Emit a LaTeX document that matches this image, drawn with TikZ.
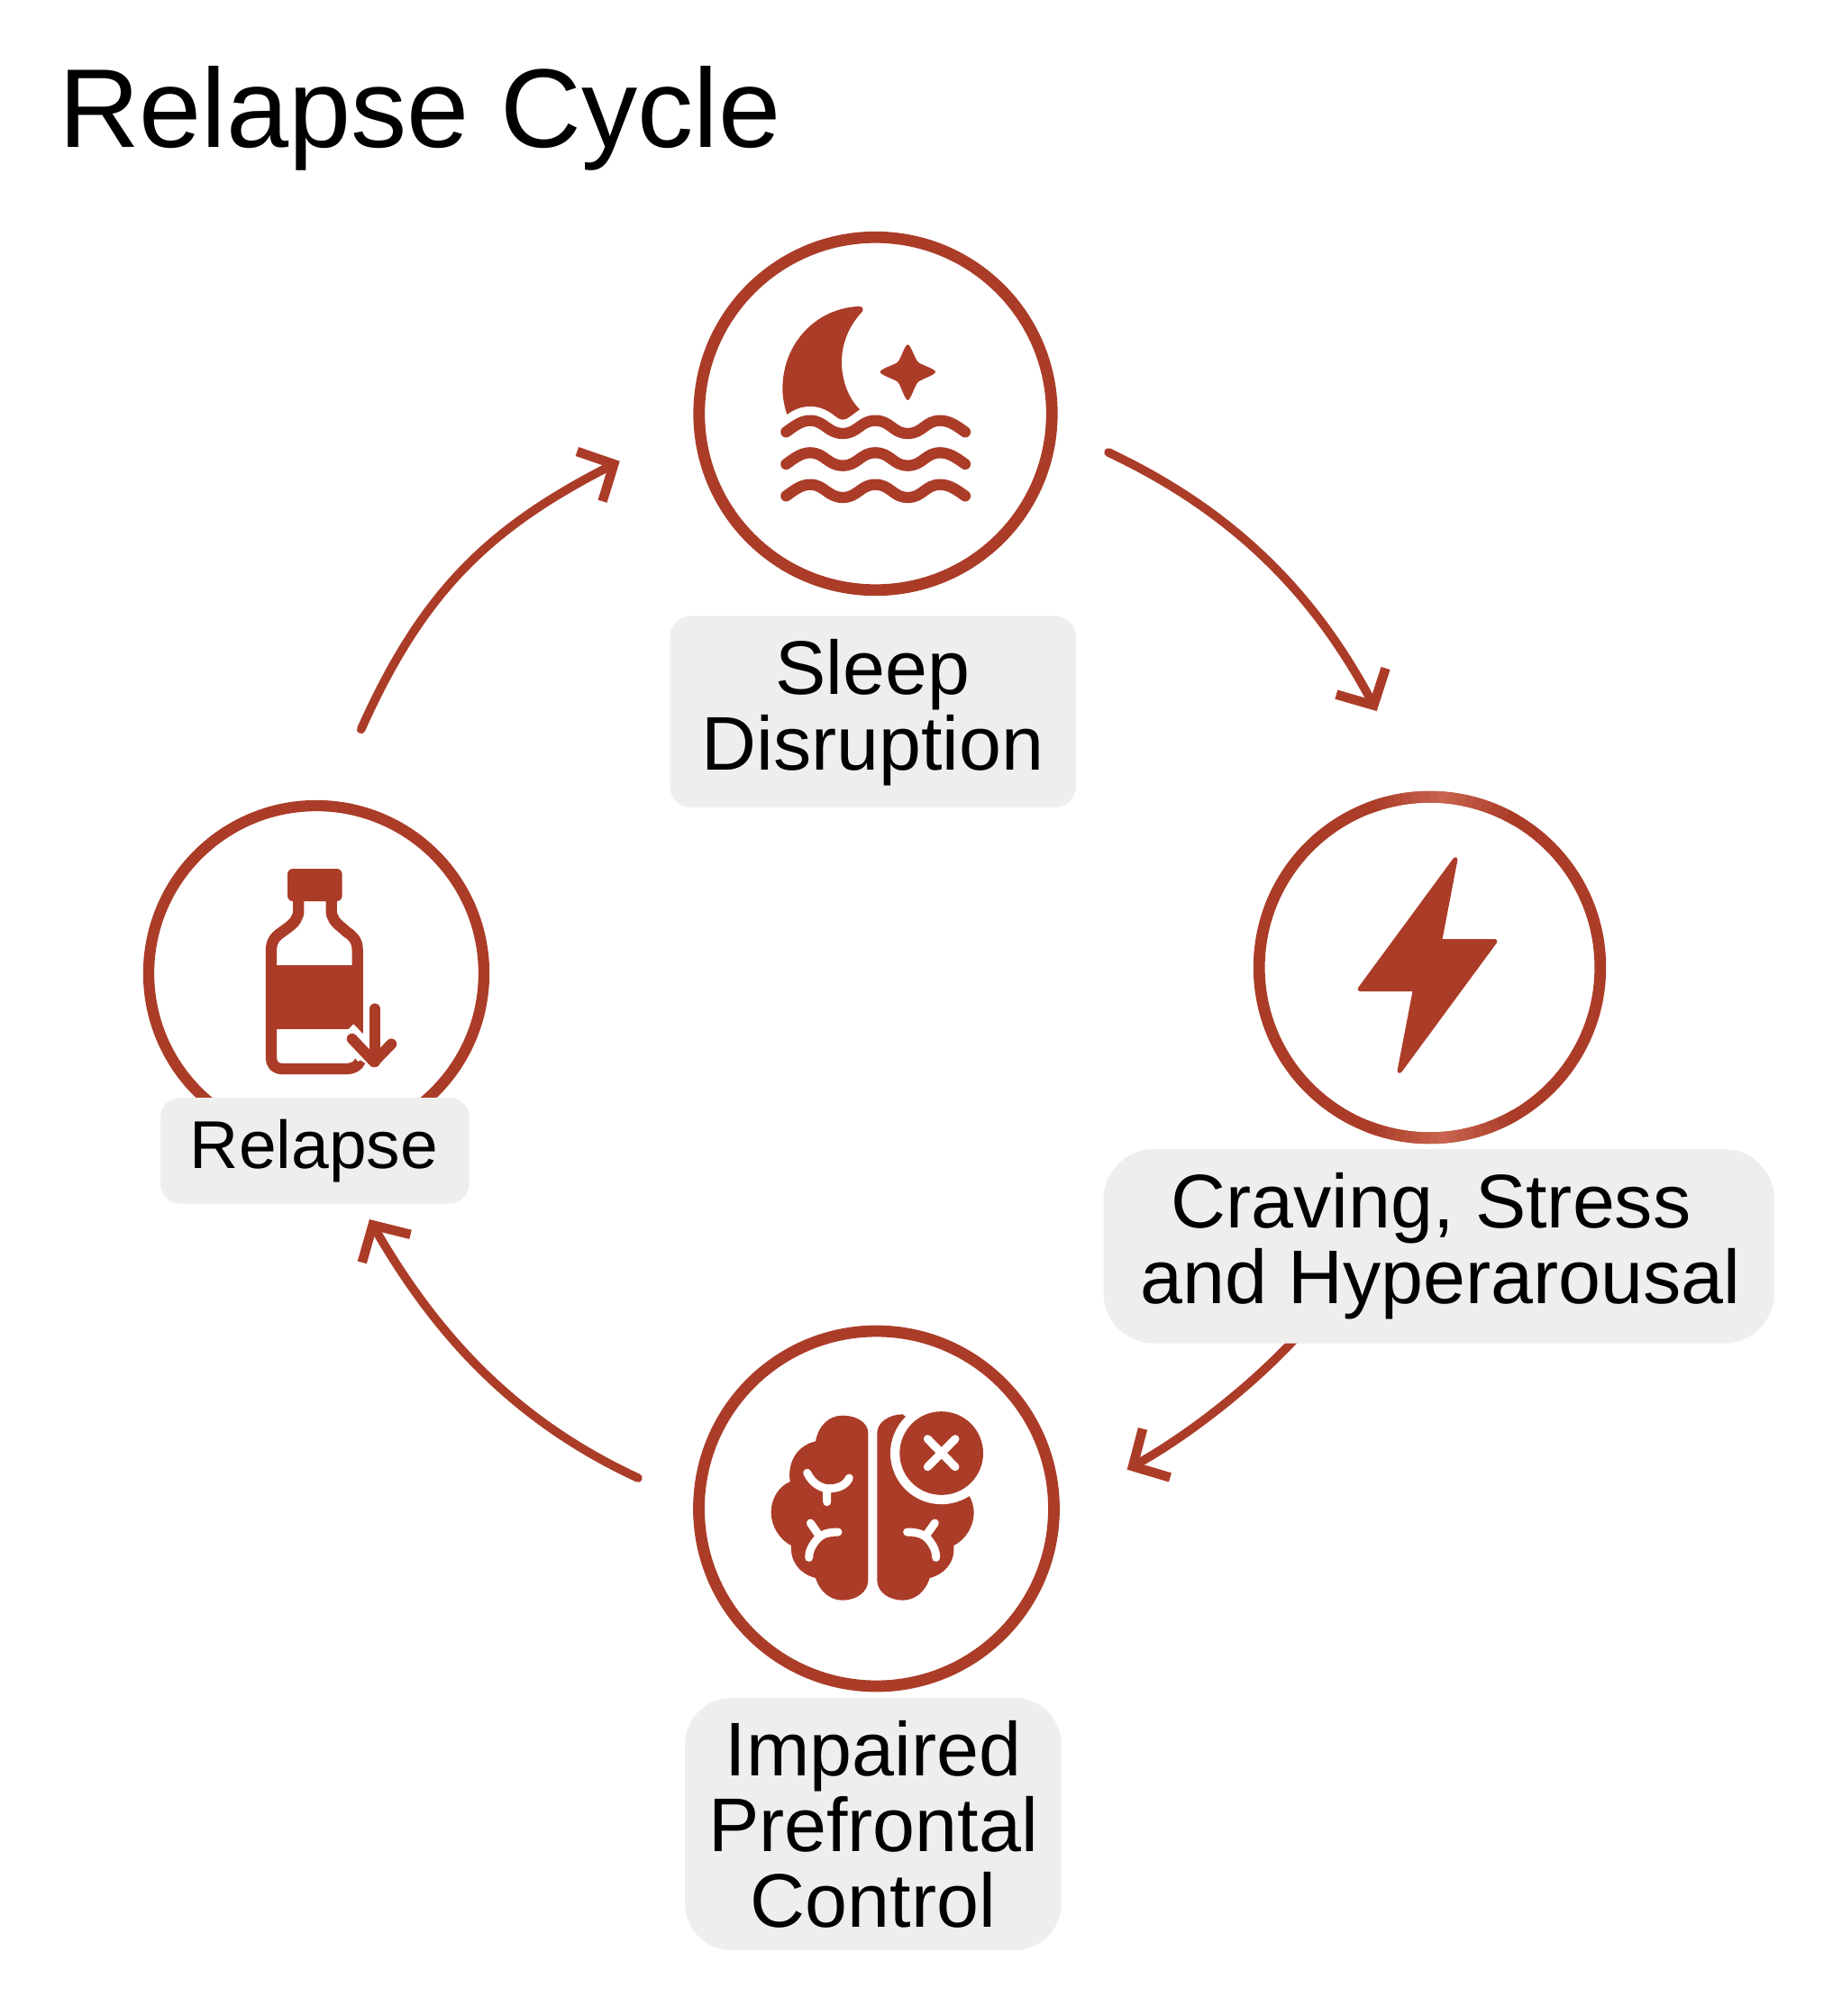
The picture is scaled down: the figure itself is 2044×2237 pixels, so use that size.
\documentclass[tikz,border=0pt]{standalone}
\usepackage{fontspec}
\setmainfont{Liberation Sans}
\usetikzlibrary{arrows.meta,shapes.geometric}
\definecolor{ringred}{HTML}{AB3C28}
\definecolor{hilite}{HTML}{C8644F}
\definecolor{boxgray}{HTML}{EEEEED}
\tikzset{
  ring/.style={circle,draw=ringred,line width=12.8pt,fill=white,inner sep=0pt,outer sep=0pt},
  labelbox/.style={fill=boxgray,rounded corners=#1,inner sep=0pt,outer sep=0pt,anchor=north west},
  labeltext/.style={inner sep=0pt,outer sep=0pt,anchor=base,align=center,text=black,font=\fontsize{84.4}{84}\selectfont},
  titletext/.style={inner sep=0pt,outer sep=0pt,anchor=base west,text=black,font=\fontsize{124.3}{130}\selectfont},
  flow/.style={draw=ringred,line width=9.6pt,line cap=round,
    -{Straight Barb[length=30pt,width=62pt,line width=10.5pt,line cap=butt,line join=miter]}},
  icon/.style={fill=ringred,draw=none},
  iconline/.style={draw=ringred,line width=12.3pt,line cap=round,line join=round},
  sulcus/.style={draw=white,line width=9pt,line cap=round,line join=round},
}
\begin{document}
\begin{tikzpicture}[x=1pt,y=-1pt]
\useasboundingbox (0,0) rectangle (2044,2237);
\fill[white] (0,0) rectangle (2044,2237);

\node[titletext] (title) at (65,163.4) {Relapse Cycle};

% rings
\node[ring,minimum size=391.5pt] (sleepring) at (971.5,459) {};
\node[ring,minimum size=378.6pt] (cravingring) at (1586.5,1073.5) {};
\node[ring,minimum size=394pt] (brainring) at (972.5,1674) {};
\node[ring,minimum size=372pt,line width=12.3pt] (relapsering) at (351,1080) {};

% highlights on the craving ring
\foreach \a in {-111,-108,...,-63}{
  \pgfmathsetmacro\m{max(0,100-abs(\a+87)*4.2)}
  \draw[draw=hilite!\m!ringred,line width=12.8pt] (cravingring.center) ++(\a:189.3) arc[start angle=\a,end angle=\a+3.5,radius=189.3];
}
\foreach \a in {60,63,...,108}{
  \pgfmathsetmacro\m{max(0,100-abs(\a-84)*4.2)}
  \draw[draw=hilite!\m!ringred,line width=12.8pt] (cravingring.center) ++(\a:189.3) arc[start angle=\a,end angle=\a+3.5,radius=189.3];
}

% moon, star and waves
\begin{scope}[shift={(700,220)},x=0.33333pt,y=-0.33333pt]
  \path[icon] (520,720) .. controls (507,680) and (505,650) .. (505,635)
    .. controls (505,480) and (620,365) .. (760,360)
    .. controls (772,360) and (776,370) .. (770,378)
    .. controls (725,425) and (702,485) .. (702,545)
    .. controls (702,610) and (725,665) .. (762,703)
    -- (728,728) .. controls (712,740) and (698,740) .. (684,728)
    .. controls (655,705) and (630,693) .. (597,693)
    .. controls (565,693) and (540,705) .. (520,720) -- cycle;
  \path[icon] (922,487) .. controls (932,487) and (945,535) .. (957,546)
    .. controls (968,555) and (1014,568) .. (1014,578)
    .. controls (1014,588) and (968,602) .. (957,611)
    .. controls (945,622) and (932,672) .. (922,672)
    .. controls (912,672) and (899,622) .. (888,611)
    .. controls (876,602) and (830,588) .. (830,578)
    .. controls (830,568) and (876,555) .. (888,546)
    .. controls (899,535) and (912,487) .. (922,487) -- cycle;
  \foreach \d in {0,107,213}{
    \draw[iconline] (517,778+\d) .. controls (540,762+\d) and (565,740+\d) .. (597,740+\d)
      .. controls (645,740+\d) and (655,783+\d) .. (706,783+\d)
      .. controls (755,783+\d) and (765,740+\d) .. (814,740+\d)
      .. controls (865,740+\d) and (872,783+\d) .. (922,783+\d)
      .. controls (972,783+\d) and (980,740+\d) .. (1030,740+\d)
      .. controls (1063,740+\d) and (1090,762+\d) .. (1113,778+\d);
  }
\end{scope}

% lightning bolt
\path[icon,draw=ringred,line width=5pt,line join=round]
  (1615,953.5) -- (1597.5,1044.5) -- (1659,1044.5) -- (1553,1188.5) -- (1570.5,1097.5) -- (1509,1097.5) -- cycle;

% brain
\begin{scope}[shift={(740,1450)},x=0.33333pt,y=-0.33333pt]
  \path[icon] (670,420) .. controls (670,385) and (630,362) .. (585,362)
    .. controls (540,362) and (505,395) .. (495,448)
    .. controls (440,460) and (400,510) .. (410,582)
    .. controls (370,600) and (347,640) .. (347,685)
    .. controls (347,730) and (375,775) .. (414,795)
    .. controls (410,850) and (445,890) .. (495,903)
    .. controls (510,950) and (545,977) .. (585,977)
    .. controls (630,977) and (670,950) .. (670,910) -- cycle;
  \path[icon] (700,420) .. controls (700,385) and (740,358) .. (785,358)
    -- (900,450) -- (1003,625)
    .. controls (1015,640) and (1022,665) .. (1022,685)
    .. controls (1022,730) and (995,775) .. (955,795)
    .. controls (960,850) and (925,890) .. (875,903)
    .. controls (860,950) and (825,977) .. (785,977)
    .. controls (740,977) and (700,950) .. (700,910) -- cycle;
  \fill[white] (914,487.5) circle[radius=170];
  \fill[ringred] (914,487.5) circle[radius=139];
  \draw[sulcus] (868,440) -- (960,533) (960,440) -- (868,533);
  \draw[sulcus] (467,553) .. controls (485,590) and (515,605) .. (540,605)
     .. controls (570,605) and (595,595) .. (607,570) (533,605) -- (533,650);
  \draw[sulcus] (478,720) -- (507,762)
     (570,750) .. controls (530,750) and (510,760) .. (495,780) .. controls (480,800) and (473,815) .. (473,835);
  \draw[sulcus] (892,720) -- (862,762)
     (800,750) .. controls (840,750) and (860,760) .. (875,780) .. controls (890,800) and (896,815) .. (896,835);
\end{scope}

% bottle
\begin{scope}[shift={(120,850)},x=0.33333pt,y=-0.33333pt]
  \fill[ringred,rounded corners=6pt] (597,342) rectangle (779,450);
  \draw[iconline,line cap=butt] (634,445) -- (634,480) .. controls (634,505) and (620,522) .. (600,537)
    -- (578,553) .. controls (555,568) and (543,585) .. (543,612)
    -- (543,968) .. controls (543,995) and (555,1008) .. (582,1008)
    -- (790,1008) .. controls (815,1008) and (832,1000) .. (840,980);
  \draw[iconline,line cap=butt] (743,445) -- (743,480) .. controls (743,505) and (757,522) .. (777,537)
    -- (795,553) .. controls (818,568) and (830,585) .. (830,612) -- (830,890);
  \fill[ringred] (525,664) rectangle (849,875);
  \draw[white,line width=25pt] (790,885) -- (860,958);
  \draw[iconline,line width=11.8pt] (887,808) -- (887,985);
  \draw[iconline,line width=11.8pt] (812,908) -- (885,985) -- (943,925);
\end{scope}

% connectors
\coordinate (a1s) at (1230,502);
\coordinate (a1e) at (1527.7,789);
\coordinate (a2s) at (1443,1479);
\coordinate (a2e) at (1250.7,1630.7);
\coordinate (a3s) at (708,1640);
\coordinate (a3e) at (410,1353);
\coordinate (a4s) at (400.7,809.3);
\coordinate (a4e) at (687.7,511.7);
\draw[flow] (a1s) .. controls (1366,566) and (1457,656) .. (a1e);
\draw[flow] (a2s) .. controls (1400,1527) and (1330,1586) .. (a2e);
\draw[flow] (a3s) .. controls (572,1577) and (485,1483) .. (a3e);
\draw[flow] (a4s) .. controls (468,658.6) and (540.7,586.6) .. (a4e);

% label boxes
\node[labelbox=24pt,minimum width=450.7pt,minimum height=212.7pt] (sleepbox) at (743.3,683.3) {};
\node[labelbox=56pt,minimum width=744.4pt,minimum height=215.6pt] (cravingbox) at (1224.5,1275) {};
\node[labelbox=52pt,minimum width=417.7pt,minimum height=280pt] (brainbox) at (760,1884) {};
\node[labelbox=22pt,minimum width=342.7pt,minimum height=117.7pt] (relapsebox) at (178,1218) {};

\node[labeltext] (sleeptext) at (968.5,854) {Sleep\\Disruption};
\node[labeltext] (cravingtext) at (1598.5,1446.5) {Craving, Stress\hspace*{21pt}\\and Hyperarousal};
\node[labeltext] (braintext) at (969,2138) {Impaired\\Prefrontal\\Control};
\node[labeltext,font=\fontsize{75}{80}\selectfont] (relapsetext) at (348.5,1296.7) {Relapse};
\end{tikzpicture}
\end{document}
